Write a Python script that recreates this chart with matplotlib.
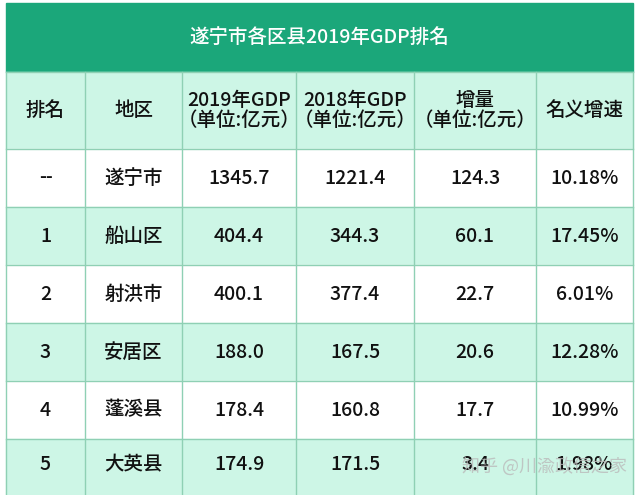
import matplotlib
matplotlib.use("Agg")
import matplotlib.pyplot as plt
from matplotlib.patches import Rectangle
from matplotlib import font_manager as fm

names = {f.name for f in fm.fontManager.ttflist}
cjk = [n for n in ["Noto Sans CJK SC", "Noto Sans CJK JP", "Noto Sans CJK TC", "Noto Sans CJK KR"] if n in names]
plt.rcParams["font.family"] = cjk + ["DejaVu Sans"]

title = "遂宁市各区县2019年GDP排名"
headers = ["排名", "地区", "2019年GDP\n（单位:亿元）", "2018年GDP\n（单位:亿元）", "增量\n（单位:亿元）", "名义增速"]
ranks = ["--", "1", "2", "3", "4", "5"]
regions = ["遂宁市", "船山区", "射洪市", "安居区", "蓬溪县", "大英县"]
gdp2019 = ["1345.7", "404.4", "400.1", "188.0", "178.4", "174.9"]
gdp2018 = ["1221.4", "344.3", "377.4", "167.5", "160.8", "171.5"]
increase = ["124.3", "60.1", "22.7", "20.6", "17.7", "3.4"]
growth = ["10.18%", "17.45%", "6.01%", "12.28%", "10.99%", "1.98%"]

W, H = 640, 495
fig = plt.figure(figsize=(6.4, 4.95), dpi=100)
ax = fig.add_axes([0, 0, 1, 1])
ax.set_xlim(0, W); ax.set_ylim(H, 0); ax.axis("off")

cols = [6, 85, 182, 296, 414, 536, 633]
rows = [3, 72, 149, 207, 265, 323, 381, 439, 510]
dark = "#1ba77a"; light = "#cdf6e6"; line = "#8fd0b4"

ax.add_patch(Rectangle((cols[0], rows[0]), cols[-1]-cols[0], rows[1]-rows[0], color=dark, zorder=1))
ax.text((cols[0]+cols[-1])/2, (rows[0]+rows[1])/2, title, color="white", fontsize=14, ha="center", va="center", fontweight="medium")

data = list(zip(ranks, regions, gdp2019, gdp2018, increase, growth))
allrows = [headers] + [list(r) for r in data]
for i, r in enumerate(allrows):
    y0, y1 = rows[i+1], rows[i+2]
    bg = light if i % 2 == 0 else "white"
    ax.add_patch(Rectangle((cols[0], y0), cols[-1]-cols[0], y1-y0, color=bg, zorder=1))
    yc = (y0 + y1) / 2 if i < len(allrows)-1 else (y0 + 495) / 2 - 2
    for j, t in enumerate(r):
        ax.text((cols[j]+cols[j+1])/2, yc, t, fontsize=14, ha="center", va="center",
                color="#111111", linespacing=1.1, zorder=3, fontweight="medium")
for y in rows[1:-1]:
    ax.plot([cols[0], cols[-1]], [y, y], color=line, lw=1, zorder=2)
for x in cols:
    ax.plot([x, x], [rows[1], H], color=line, lw=1, zorder=2)

ax.text(545, 466, "知乎 @川渝政信之家", fontsize=13, ha="center", va="center", color="#bbbbbb", alpha=0.8, zorder=4)
fig.savefig("out.png", dpi=100)
